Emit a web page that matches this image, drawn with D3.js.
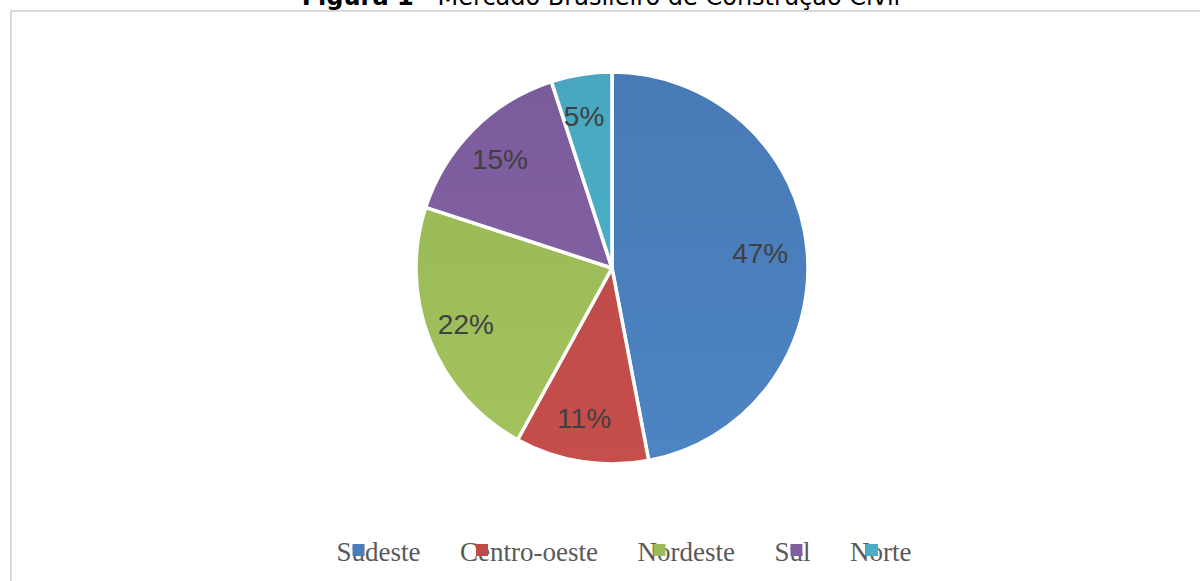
<!DOCTYPE html>
<html>
<head>
<meta charset="utf-8">
<script src="https://cdn.jsdelivr.net/npm/d3@7"></script>
<style>
  body { margin: 0; background: #fff; }
  svg { display: block; }
</style>
</head>
<body>
<div id="chart"></div>
<script>
// chart data
var regions = ["Sudeste", "Centro-oeste", "Nordeste", "Sul", "Norte"];
var shares = [47, 11, 22, 15, 5];
var colors = ["#4a7ebb", "#be4b48", "#9bbb59", "#7f5f9f", "#4aacc5"];

var width = 1200, height = 581;

var svg = d3.select("#chart")
  .append("svg")
    .attr("width", width)
    .attr("height", height);

// frame (top + left edge visible)
svg.append("path")
  .attr("d", "M11,581 V11 H1200")
  .attr("fill", "none")
  .attr("stroke", "#d9d9d9")
  .attr("stroke-width", 2);

// title, mostly cut at the top like the source
var title = svg.append("text")
  .attr("x", 601)
  .attr("y", 5)
  .attr("text-anchor", "middle")
  .style("font-family", "'DejaVu Sans', sans-serif")
  .style("font-size", "24px")
  .attr("fill", "#000");
title.append("tspan").style("font-weight", "bold").text("Figura 1");
title.append("tspan").text(" - Mercado Brasileiro de Construção Civil");

// pie
var cx = 612, cy = 268, r = 196;

var pie = d3.pie().sort(null).value(function(d) { return d; });
var arc = d3.arc().innerRadius(0).outerRadius(r);
var labelArc = d3.arc().innerRadius(r * 0.78).outerRadius(r * 0.78);

var g = svg.append("g")
  .attr("transform", "translate(" + cx + "," + cy + ")");

// subtle vertical shading like office charts
var defs = svg.append("defs");
colors.forEach(function(c, i) {
  var grad = defs.append("linearGradient")
    .attr("id", "grad" + i)
    .attr("gradientUnits", "userSpaceOnUse")
    .attr("x1", 0).attr("y1", -r).attr("x2", 0).attr("y2", r);
  grad.append("stop").attr("offset", "0%").attr("stop-color", d3.color(c).darker(0.08));
  grad.append("stop").attr("offset", "100%").attr("stop-color", d3.color(c).brighter(0.12));
});

var arcs = pie(shares);

g.selectAll("path.slice")
  .data(arcs)
  .enter()
  .append("path")
    .attr("class", "slice")
    .attr("d", arc)
    .attr("fill", function(d, i) { return "url(#grad" + i + ")"; })
    .attr("stroke", "#fff")
    .attr("stroke-width", 3.5)
    .attr("stroke-linejoin", "round");

g.selectAll("text.lbl")
  .data(arcs)
  .enter()
  .append("text")
    .attr("class", "lbl")
    .attr("transform", function(d) {
      var c = labelArc.centroid(d);
      return "translate(" + (c[0] - 4) + "," + c[1] + ")";
    })
    .attr("text-anchor", "middle")
    .attr("dy", "0.33em")
    .style("font-family", "Arial, 'Liberation Sans', sans-serif")
    .style("font-size", "28px")
    .attr("fill", "#404040")
    .text(function(d) { return d.data + "%"; });

// legend (squares drawn over the text, as in the source picture)
var legend = svg.append("g");
var items = legend.selectAll("g.item")
  .data(regions)
  .enter()
  .append("g")
    .attr("class", "item");

items.append("text")
  .attr("y", 561)
  .style("font-family", "'Liberation Serif', 'Times New Roman', serif")
  .style("font-size", "27px")
  .attr("fill", "#595959")
  .text(function(d) { return d; });

var gap = 39.5, xPos = 0, widths = [];
items.each(function() {
  widths.push(d3.select(this).select("text").node().getComputedTextLength());
});
var total = d3.sum(widths) + gap * (regions.length - 1);
xPos = 624 - total / 2;

items.each(function(d, i) {
  var it = d3.select(this);
  it.attr("transform", "translate(" + xPos + ",0)");
  it.append("rect")
    .attr("x", 16)
    .attr("y", 544)
    .attr("width", 12)
    .attr("height", 12)
    .attr("fill", colors[i]);
  xPos += widths[i] + gap;
});
</script>
</body>
</html>
